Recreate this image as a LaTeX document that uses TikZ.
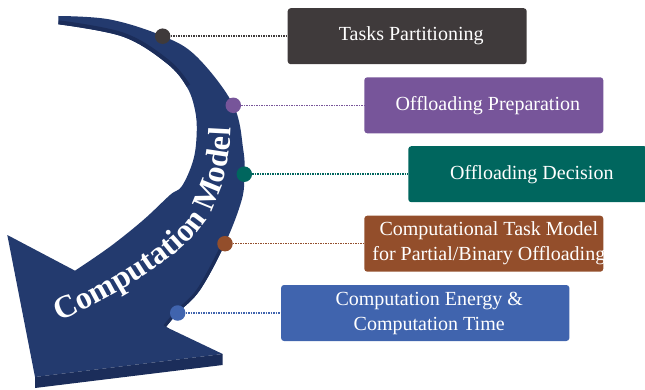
\documentclass[tikz,border=0pt]{standalone}
\usepackage{fontspec}
\setmainfont{Liberation Serif}
\usetikzlibrary{decorations.text}
\definecolor{navy}{HTML}{233A6E}
\definecolor{navydark}{HTML}{1B2D5A}
\definecolor{cdark}{HTML}{3F3A3B}
\definecolor{cpurple}{HTML}{77559A}
\definecolor{cteal}{HTML}{00665E}
\definecolor{cbrown}{HTML}{934E2B}
\definecolor{cblue}{HTML}{4064AE}
\def\arrowshape{(58.3,16) -- plot[smooth, tension=0.6] coordinates {(58.3,16) (110,19.5) (162.7,36) (196.7,56.7) (233.3,105) (243.3,150) (244.3,174) (241.7,200) (225,243.7) (200,290) (177.7,313) (166,327)} -- (222.7,354) -- (35,377) -- (7.3,235) -- (75,270.7) -- plot[smooth, tension=0.6] coordinates {(75,270.7) (110,246.7) (143.3,220) (170,195) (182,186) (193.3,160) (196.7,133) (195,110) (186.7,86.7) (166.7,63.3) (123,36.7) (58.3,24.3)} -- cycle}
\begin{document}
\begin{tikzpicture}[x=1pt,y=-1pt,
  box/.style={rectangle, rounded corners=3pt, inner sep=0pt, minimum width=239pt, minimum height=56pt},
  lbl/.style={text=white, font=\fontsize{20}{25}\selectfont, align=center, inner sep=0pt},
  dotc/.style={circle, minimum size=15.5pt, inner sep=0pt},
  link/.style={line width=1.5pt, dash pattern=on 1.5pt off 1pt}]
\useasboundingbox (0,0) rectangle (645,390);
% arrow
\fill[navy] \arrowshape;
\fill[navydark] (35,377) -- (222.7,354) -- (222.7,365) -- (35,388) -- cycle;
\begin{scope}
  \clip \arrowshape;
  \draw[navydark, line width=8pt] plot[smooth, tension=0.6] coordinates {(58.3,24.3) (123,36.7) (166.7,63.3) (186.7,86.7)};
  \draw[navydark, line width=6pt] plot[smooth, tension=0.6] coordinates {(225,243.7) (200,290) (177.7,313) (166,327)};
\end{scope}
\path[decorate, decoration={text along path, text color=white, text align=left,
  text={|\fontsize{32}{32}\selectfont\bfseries|Computation Model}}]
  (59.5,321) .. controls (120,294) and (180,258) .. (205,222)
  .. controls (222,197) and (231,165) .. (231,110);
% boxes
\node[box, fill=cdark] (b1) at (407.2,36.2) {};
\node[box, fill=cpurple] (b2) at (483.8,105.3) {};
\node[box, fill=cteal] (b3) at (527.8,174.2) {};
\node[box, fill=cbrown] (b4) at (483.8,243.7) {};
\node[box, fill=cblue, minimum width=288.3pt] (b5) at (425.2,313) {};
\node[lbl] (l1) at ([xshift=4pt]b1.center) {Tasks Partitioning};
\node[lbl] (l2) at ([xshift=4pt]b2.center) {Offloading Preparation};
\node[lbl] (l3) at ([xshift=4pt]b3.center) {Offloading Decision};
\node[lbl] (l4) at ([xshift=5pt]b4.center) {Computational Task Model\\for Partial/Binary Offloading};
\node[lbl] (l5) at ([xshift=4pt]b5.center) {Computation Energy \&\\Computation Time};
% dots
\node[dotc, fill=cdark] (d1) at (162.7,36.2) {};
\node[dotc, fill=cpurple] (d2) at (233.3,105.3) {};
\node[dotc, fill=cteal] (d3) at (244.3,174.2) {};
\node[dotc, fill=cbrown] (d4) at (225,243.7) {};
\node[dotc, fill=cblue] (d5) at (177.7,313) {};
\draw[link, cdark] (d1) -- (b1);
\draw[link, cpurple] (d2) -- (b2);
\draw[link, cteal] (d3) -- (b3);
\draw[link, cbrown] (d4) -- (b4);
\draw[link, cblue] (d5) -- (b5);
\end{tikzpicture}
\end{document}
